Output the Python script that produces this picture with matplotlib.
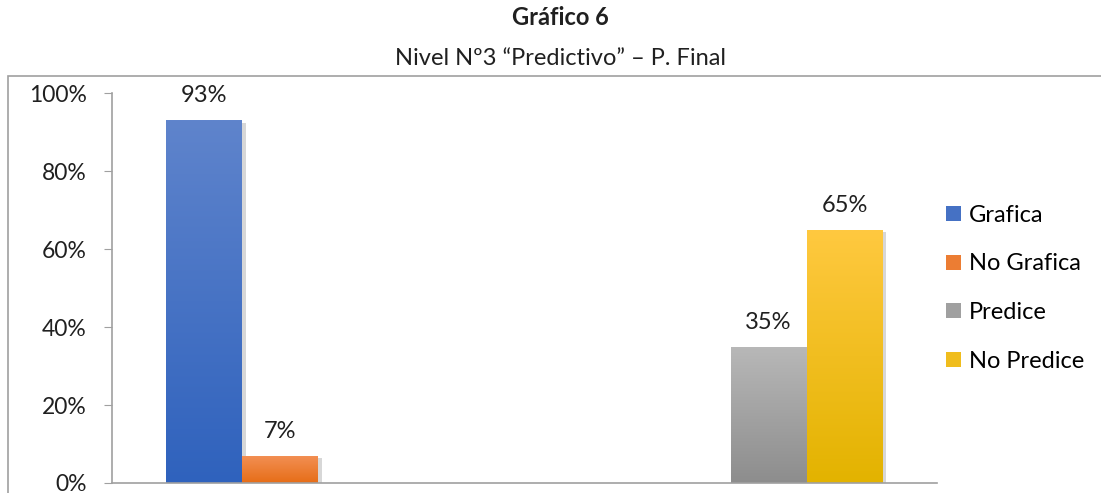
import numpy as np
import matplotlib.pyplot as plt
import matplotlib.patheffects as pe
from matplotlib.colors import LinearSegmentedColormap
from matplotlib.patches import Rectangle, Patch

plt.rcParams['font.family'] = ['Lato', 'DejaVu Sans']

# two groups, each group only carries its own pair of answers
series = ['Grafica', 'No Grafica', 'Predice', 'No Predice']
grafica = [93, np.nan]
no_grafica = [7, np.nan]
predice = [np.nan, 35]
no_predice = [np.nan, 65]
values = [grafica, no_grafica, predice, no_predice]

# (top colour, bottom colour) for the gradient fills
shades = [('#5f84cc', '#2f62bd'),
          ('#f39055', '#e66d17'),
          ('#b8b8b8', '#8d8d8d'),
          ('#ffc940', '#e3b300')]

fig = plt.figure(figsize=(11.01, 4.93), dpi=100)
ax = fig.add_axes([0.1017, 0.0203, 0.7493, 0.7907])

# outer chart frame
fig.patches.append(Rectangle((8 / 1101, -0.1), 1.2, (493 - 76) / 493 + 0.1,
                             transform=fig.transFigure, fill=False,
                             edgecolor='#a0a0a0', linewidth=1.2))

x = np.arange(2)
width = 0.184
grad = np.linspace(0, 1, 256).reshape(-1, 1)
handles = []

for i, (name, vals) in enumerate(zip(series, values)):
    offs = x + (i - 1.5) * width
    top, bottom = shades[i]
    cmap = LinearSegmentedColormap.from_list(name, [top, bottom])
    bars = ax.bar(offs, np.nan_to_num(vals), width, color=cmap(0.5), linewidth=0)
    handles.append(Patch(facecolor=cmap(0.55), label=name))
    for bar, v in zip(bars, vals):
        if np.isnan(v):
            bar.set_visible(False)
            continue
        bar.set_path_effects([pe.SimplePatchShadow(offset=(2.5, -1.5), alpha=0.25,
                                                   shadow_rgbFace='#606060'),
                              pe.Normal()])
        bx = bar.get_x()
        img = ax.imshow(grad, cmap=cmap, aspect='auto', zorder=bar.get_zorder() + 0.1,
                        extent=(bx, bx + bar.get_width(), 0, v))
        img.set_clip_path(bar)
        ax.text(bx + bar.get_width() / 2, v + 3.6, f'{v:.0f}%', ha='center',
                va='bottom', fontsize=17, color='#202020')

ax.set_xlim(-0.5, 1.5)
ax.set_ylim(0, 100)
ax.set_yticks(np.arange(0, 101, 20))
ax.set_yticklabels([f'{t}%' for t in range(0, 101, 20)], fontsize=16.5, color='#202020')
ax.set_xticks([])
ax.tick_params(axis='y', direction='out', length=6, color='#a0a0a0', pad=12)
for s in ['top', 'right']:
    ax.spines[s].set_visible(False)
for s in ['left', 'bottom']:
    ax.spines[s].set_color('#a0a0a0')
    ax.spines[s].set_linewidth(1.2)

fig.text(0.509, 0.965, 'Gráfico 6', ha='center', va='center', fontsize=17,
         fontweight='bold', color='#202020')
fig.text(0.509, 0.882, 'Nivel Nº3 “Predictivo” – P. Final', ha='center',
         va='center', fontsize=17, color='#202020')

ax.legend(handles=handles, loc='upper left', bbox_to_anchor=(1.0, 0.738),
          frameon=False, fontsize=17, handlelength=0.6, handleheight=0.6,
          handletextpad=0.35, labelspacing=1.17, borderaxespad=0)

fig.savefig('out.png', dpi=100)
